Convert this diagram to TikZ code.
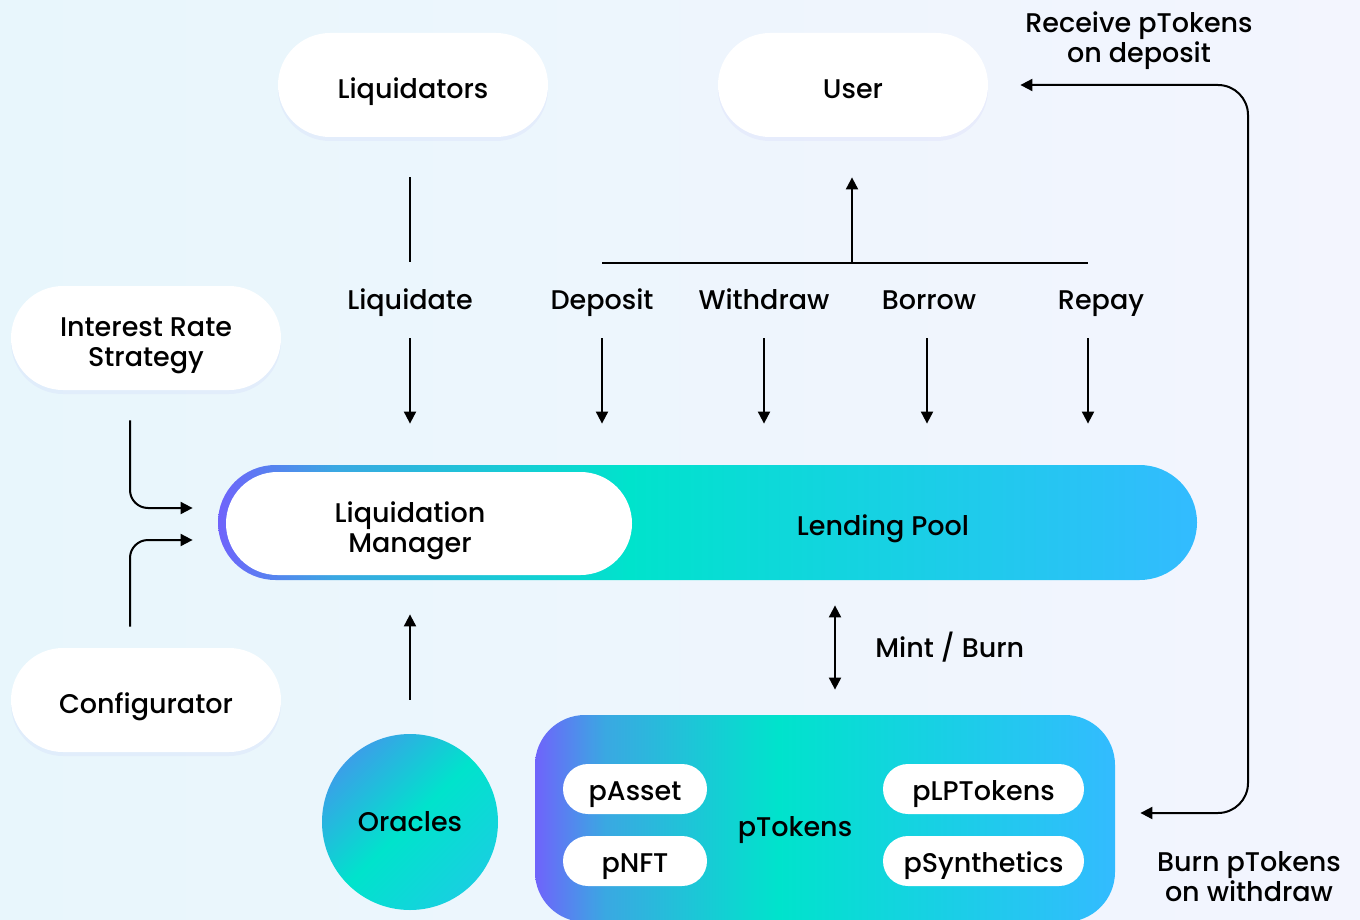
\documentclass[tikz,border=0pt]{standalone}
\usepackage{fontspec}
\IfFontExistsTF{Poppins Medium}{\setmainfont{Poppins Medium}}{\setmainfont{Poppins}[FakeBold=0.4]}
\usetikzlibrary{arrows.meta,positioning,shadows}
\definecolor{bgleft}{RGB}{232,246,252}
\definecolor{bgright}{RGB}{243,245,254}
\definecolor{ppurple}{RGB}{111,99,251}
\definecolor{pmid}{RGB}{58,168,226}
\definecolor{pteal}{RGB}{0,227,204}
\definecolor{psky}{RGB}{51,187,255}
\definecolor{oblue}{RGB}{58,160,232}
\definecolor{ocyan}{RGB}{24,208,224}
\pgfdeclarehorizontalshading{lendgrad}{100bp}{color(0bp)=(ppurple); color(25bp)=(ppurple); color(31bp)=(pmid); color(46bp)=(pteal); color(75bp)=(psky); color(100bp)=(psky)}
\pgfdeclarehorizontalshading{orbgrad}{100bp}{color(0bp)=(oblue); color(25bp)=(oblue); color(50bp)=(pteal); color(75bp)=(ocyan); color(100bp)=(ocyan)}
\newcommand{\dropstack}[2]{\raisebox{-#1}[\height][\depth]{\begin{tabular}{@{}c@{}}#2\end{tabular}}}

\begin{document}
\begin{tikzpicture}[x=0.5pt,y=-0.5pt,
  every node/.style={font=\fontsize{13.5}{15}\selectfont, text=black},
  card/.style={fill=white, rounded corners=26pt, minimum width=135pt, minimum height=52pt, align=center,
    text height=16pt, text depth=3pt,
    drop shadow={shadow xshift=0pt, shadow yshift=-2pt, opacity=.06, fill=ppurple}},
  chip/.style={fill=white, rounded corners=12.5pt, minimum width=72pt, minimum height=25pt, inner sep=0pt,
    text height=14.5pt, text depth=3pt},
  lbl/.style={inner sep=0pt, text height=12pt, text depth=3pt},
  link/.style={line width=1pt},
  arr/.style={line width=1pt, -{Triangle[length=6pt,width=6pt]}},
  both/.style={line width=1pt, {Triangle[length=6pt,width=6pt]}-{Triangle[length=6pt,width=6pt]}}]
\fill[left color=bgleft, right color=bgright] (0,0) rectangle (1360,920);
\useasboundingbox (0,0) rectangle (1360,920);

% actors
\node[card] (liquidators) at (413,85) {Liquidators};
\node[card] (user) at (853,85) {User};
\node[card, text height=, text depth=] (irs) at (146,338) {\dropstack{3.5pt}{Interest Rate\\Strategy}};
\node[card] (config) at (146,700) {Configurator};

% lending pool
\node[shading=lendgrad, rounded corners=28.75pt, minimum width=489.5pt, minimum height=57.5pt] (pool) at (707.5,522.5) {};
\node[fill=white, rounded corners=25.75pt, minimum width=203pt, minimum height=51.5pt] (lqm) at (429,523.5) {};
\node[align=center] (lqmtext) at (410,531) {Liquidation\\Manager};
\node[lbl] (pooltext) at (883,526.5) {Lending Pool};

% ptokens
\node[shading=lendgrad, rounded corners=25pt, minimum width=290pt, minimum height=103.5pt] (ptokens) at (825,818.5) {};
\node[lbl] (ptoktext) at (795,827.5) {pTokens};
\node[chip] (passet) at (635,789) {pAsset};
\node[chip] (pnft) at (635,861) {pNFT};
\node[chip, minimum width=100.5pt] (plp) at (983.5,789) {pLPTokens};
\node[chip, minimum width=100.5pt] (psyn) at (983.5,861) {pSynthetics};

\node[circle, shading=orbgrad, shading angle=-45, minimum size=88pt, inner sep=0pt] (oracles) at (410,822) {Oracles};

% actions
\node[lbl] (liquidate) at (410,300) {Liquidate};
\node[lbl] (deposit) at (602,300) {Deposit};
\node[lbl] (withdraw) at (764,300) {Withdraw};
\node[lbl] (borrow) at (929,300) {Borrow};
\node[lbl] (repay) at (1101,300) {Repay};

\draw[link, shorten <=20pt, shorten >=11.5pt] (liquidate |- liquidators.south) -- (liquidate.north);
\foreach \n/\dx in {liquidate/0, deposit/0, withdraw/0, borrow/-1, repay/-6.5}
  \draw[arr, shorten <=11.5pt, shorten >=20.5pt] ([xshift=\dx pt]\n.south) -- ([xshift=\dx pt]\n.south |- pool.north);

\coordinate (fan) at (852,263);
\draw[link] (deposit.north |- fan) -- ([xshift=-6.5pt]repay.north |- fan);
\draw[arr, shorten >=20pt] (fan) -- (fan |- user.south);

\draw[arr, rounded corners=9pt] ([xshift=-8pt,yshift=-15pt]irs.south) |- ([xshift=-12.5pt,yshift=7.25pt]pool.west);
\draw[arr, rounded corners=9pt] ([xshift=-8pt,yshift=10.5pt]config.north) |- ([xshift=-12.5pt,yshift=-8.75pt]pool.west);
\draw[arr, shorten <=17pt, shorten >=17pt] (oracles.north) -- (oracles.north |- pool.south);

\coordinate (mb) at (835,648);
\draw[both, shorten <=12.5pt, shorten >=12.5pt] (mb |- pool.south) -- (mb |- ptokens.north);
\node[lbl, right=20pt of mb] (mintburn) {Mint / Burn};

\coordinate (loop) at (1248,450);
\draw[both, rounded corners=15pt, shorten <=16pt, shorten >=12.5pt] (user.east) -- (user.east -| loop)
  -- ([yshift=2.75pt]ptokens.east -| loop) -- ([yshift=2.75pt]ptokens.east);
\node[align=center] (receive) at (1139,41) {Receive pTokens\\on deposit};
\node[align=center] (burn) at (1249,877) {Burn pTokens\\on withdraw};
\end{tikzpicture}
\end{document}
